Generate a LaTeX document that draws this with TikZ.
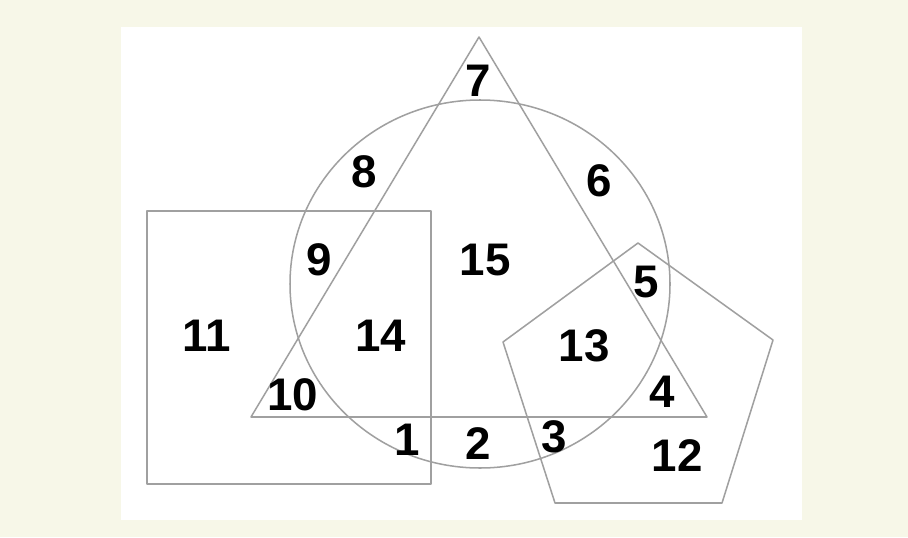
\documentclass[tikz,border=0pt]{standalone}
\usepackage{fontspec}
\setmainfont{Liberation Sans}
\usetikzlibrary{calc}
\definecolor{creambg}{HTML}{F7F7E8}
\definecolor{edgec}{HTML}{A0A0A0}
\begin{document}
\begin{tikzpicture}[x=0.03cm,y=-0.03cm]
\tikzset{edge/.style={draw=edgec,line width=1.3pt,line join=round},
  num/.style={font=\fontsize{39}{44}\selectfont\bfseries,inner sep=0pt}}
\fill[creambg] (0,0) rectangle (908,537);\useasboundingbox (0,0) rectangle (908,537);
\fill[white] (121,27) rectangle (802,520);
% shapes
\draw[edge] (147,211) rectangle (431,484);
\draw[edge] (480,284) ellipse [x radius=190,y radius=184];
\draw[edge] (479,37)--(707,417)--(251,417)--cycle;
\draw[edge] (638,243)--(773,340)--(722,503)--(555,503)--(503,342)--cycle;
% region numbers
\foreach \n/\x/\y in {1/407/440,2/478/444,3/554/437,4/662/392,5/646/282,6/599/181,7/478/81,8/364/172,
  9/319/260,10/293/395,11/207/336,12/677/456,13/584/346,14/381/336,15/485/260}
  \node[num] (r\n) at (\x,\y) {\n};
\end{tikzpicture}
\end{document}
